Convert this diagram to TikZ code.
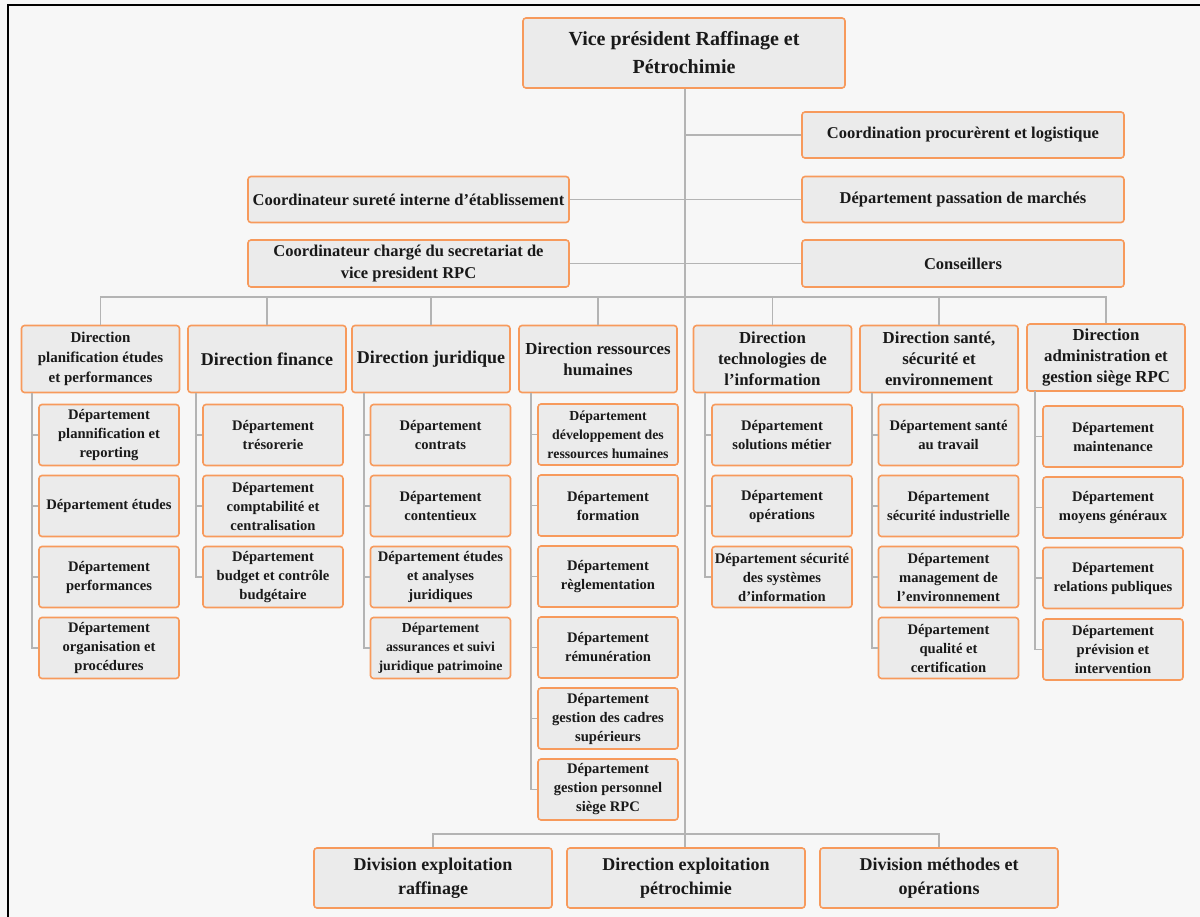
\documentclass[tikz,border=0pt]{standalone}
\usepackage{fontspec}
\setmainfont{Liberation Serif}
\usetikzlibrary{positioning}

\definecolor{pagegray}{HTML}{F7F7F7}
\definecolor{boxfill}{HTML}{EBEBEB}
\definecolor{boxline}{HTML}{F79A5C}
\definecolor{linkgray}{HTML}{B4B4B4}

\tikzset{
  box/.style = {draw=boxline, fill=boxfill, line width=1.6pt, rounded corners=3pt,
                align=center, inner sep=1pt, text=black!90, font=\bfseries},
  vpbox/.style = {box, minimum width=322pt, minimum height=70pt, font=\bfseries\fontsize{20}{28}\selectfont},
  topbox/.style = {box, minimum width=322pt, minimum height=46pt, font=\bfseries\fontsize{16.5}{22}\selectfont},
  dirbox/.style = {box, minimum width=158pt, minimum height=67pt, font=\bfseries\fontsize{16.8}{21}\selectfont},
  deptbox/.style = {box, minimum width=140pt, minimum height=61pt, font=\bfseries\fontsize{14.6}{19}\selectfont},
  smalldept/.style = {font=\bfseries\fontsize{13.8}{19}\selectfont},
  divbox/.style = {box, minimum width=238pt, minimum height=60pt, font=\bfseries\fontsize{18}{24}\selectfont},
  link/.style = {draw=linkgray, line width=1.3pt}
}

\begin{document}
\begin{tikzpicture}[x=1pt, y=-1pt]
    \useasboundingbox (0,0) rectangle (1200,917);
    \fill[pagegray] (0,0) rectangle (1200,917);
    \draw[line width=2pt] (8,917) -- (8,5) -- (1200,5);

    % top of the chart
    \node[vpbox] (vp) at (684,53) {Vice président Raffinage et\\Pétrochimie};
    \node[topbox] (proc) at (963,135) {Coordination procurèrent et logistique};
    \node[topbox] (march) at (963,199.5) {Département passation de marchés};
    \node[topbox, minimum width=321pt] (surete) at (408.5,199.5) {Coordinateur sureté interne d’établissement};
    \node[topbox, minimum width=321pt, minimum height=47pt] (secr) at (408.5,263.5) {Coordinateur chargé du secretariat de\\vice president RPC};
    \node[topbox, minimum height=47pt] (cons) at (963,263.5) {Conseillers};

    % directions
    \node[dirbox, font=\bfseries\fontsize{15}{20}\selectfont] (d1) at (100.5,359) {Direction\\planification études\\et performances};
    \node[dirbox, font=\bfseries\fontsize{18}{22}\selectfont] (d2) at (267,359) {Direction finance};
    \node[dirbox, font=\bfseries\fontsize{18}{22}\selectfont] (d3) at (431,359) {Direction juridique};
    \node[dirbox] (d4) at (598,359) {Direction ressources\\humaines};
    \node[dirbox] (d5) at (772.5,359) {Direction\\technologies de\\l’information};
    \node[dirbox] (d6) at (939,359) {Direction santé,\\sécurité et\\environnement};
    \node[dirbox] (d7) at (1106,357.5) {Direction\\administration et\\gestion siège RPC};

    % departements
    \node[deptbox] (p11) at (109,435) {Département\\plannification et\\reporting};
    \node[deptbox] (p12) at (109,506) {Département études};
    \node[deptbox] (p13) at (109,577) {Département\\performances};
    \node[deptbox] (p14) at (109,648) {Département\\organisation et\\procédures};

    \node[deptbox] (p21) at (273,435) {Département\\trésorerie};
    \node[deptbox] (p22) at (273,506) {Département\\comptabilité et\\centralisation};
    \node[deptbox] (p23) at (273,577) {Département\\budget et contrôle\\budgétaire};

    \node[deptbox] (p31) at (440.5,435) {Département\\contrats};
    \node[deptbox] (p32) at (440.5,506) {Département\\contentieux};
    \node[deptbox] (p33) at (440.5,577) {Département études\\et analyses\\juridiques};
    \node[deptbox, smalldept] (p34) at (440.5,648) {Département\\assurances et suivi\\juridique patrimoine};

    \node[deptbox, smalldept] (p41) at (608,434.5) {Département\\développement des\\ressources humaines};
    \node[deptbox] (p42) at (608,505.5) {Département\\formation};
    \node[deptbox] (p43) at (608,576.5) {Département\\règlementation};
    \node[deptbox] (p44) at (608,647.5) {Département\\rémunération};
    \node[deptbox] (p45) at (608,718.5) {Département\\gestion des cadres\\supérieurs};
    \node[deptbox] (p46) at (608,789.5) {Département\\gestion personnel\\siège RPC};

    \node[deptbox] (p51) at (782,435) {Département\\solutions métier};
    \node[deptbox] (p52) at (782,506) {Département\\opérations};
    \node[deptbox] (p53) at (782,577) {Département sécurité\\des systèmes\\d’information};

    \node[deptbox] (p61) at (948.5,435) {Département santé\\au travail};
    \node[deptbox] (p62) at (948.5,506) {Département\\sécurité industrielle};
    \node[deptbox] (p63) at (948.5,577) {Département\\management de\\l’environnement};
    \node[deptbox] (p64) at (948.5,648) {Département\\qualité et\\certification};

    \node[deptbox] (p71) at (1113,436.5) {Département\\maintenance};
    \node[deptbox] (p72) at (1113,507.5) {Département\\moyens généraux};
    \node[deptbox] (p73) at (1113,578) {Département\\relations publiques};
    \node[deptbox] (p74) at (1113,649.5) {Département\\prévision et\\intervention};

    % bottom divisions
    \node[divbox] (b1) at (433,878) {Division exploitation\\raffinage};
    \node[divbox] (b2) at (686,878) {Direction exploitation\\pétrochimie};
    \node[divbox] (b3) at (939,878) {Division méthodes et\\opérations};

    % connectors
    \coordinate (bus) at (685,297);
    \coordinate (lowbus) at (685,834);
    \draw[link] (vp.south -| bus) -- (b2.north -| bus);
    \draw[link] (bus |- proc.west) -- (proc.west);
    \draw[link] (surete.east) -- (march.west);
    \draw[link] (secr.east) -- (cons.west);

    \draw[link] (d1.north) |- (bus) -| (d7.north);
    \draw[link] (d2.north) -- (d2.north |- bus);
    \draw[link] (d3.north) -- (d3.north |- bus);
    \draw[link] (d4.north) -- (d4.north |- bus);
    \draw[link] (d5.north) -- (d5.north |- bus);
    \draw[link] (d6.north) -- (d6.north |- bus);

    \draw[link] (b1.north) |- (lowbus) -| (b3.north);

    % department trees
    \coordinate (s1) at (32,393);
    \draw[link] (s1) |- (p11.west);
    \draw[link] (s1) |- (p12.west);
    \draw[link] (s1) |- (p13.west);
    \draw[link] (s1) |- (p14.west);

    \coordinate (s2) at (196,393);
    \draw[link] (s2) |- (p21.west);
    \draw[link] (s2) |- (p22.west);
    \draw[link] (s2) |- (p23.west);

    \coordinate (s3) at (364,393);
    \draw[link] (s3) |- (p31.west);
    \draw[link] (s3) |- (p32.west);
    \draw[link] (s3) |- (p33.west);
    \draw[link] (s3) |- (p34.west);

    \coordinate (s4) at (531,393);
    \draw[link] (s4) |- (p41.west);
    \draw[link] (s4) |- (p42.west);
    \draw[link] (s4) |- (p43.west);
    \draw[link] (s4) |- (p44.west);
    \draw[link] (s4) |- (p45.west);
    \draw[link] (s4) |- (p46.west);

    \coordinate (s5) at (705,393);
    \draw[link] (s5) |- (p51.west);
    \draw[link] (s5) |- (p52.west);
    \draw[link] (s5) |- (p53.west);

    \coordinate (s6) at (872,393);
    \draw[link] (s6) |- (p61.west);
    \draw[link] (s6) |- (p62.west);
    \draw[link] (s6) |- (p63.west);
    \draw[link] (s6) |- (p64.west);

    \coordinate (s7) at (1035,391);
    \draw[link] (s7) |- (p71.west);
    \draw[link] (s7) |- (p72.west);
    \draw[link] (s7) |- (p73.west);
    \draw[link] (s7) |- (p74.west);
\end{tikzpicture}
\end{document}
